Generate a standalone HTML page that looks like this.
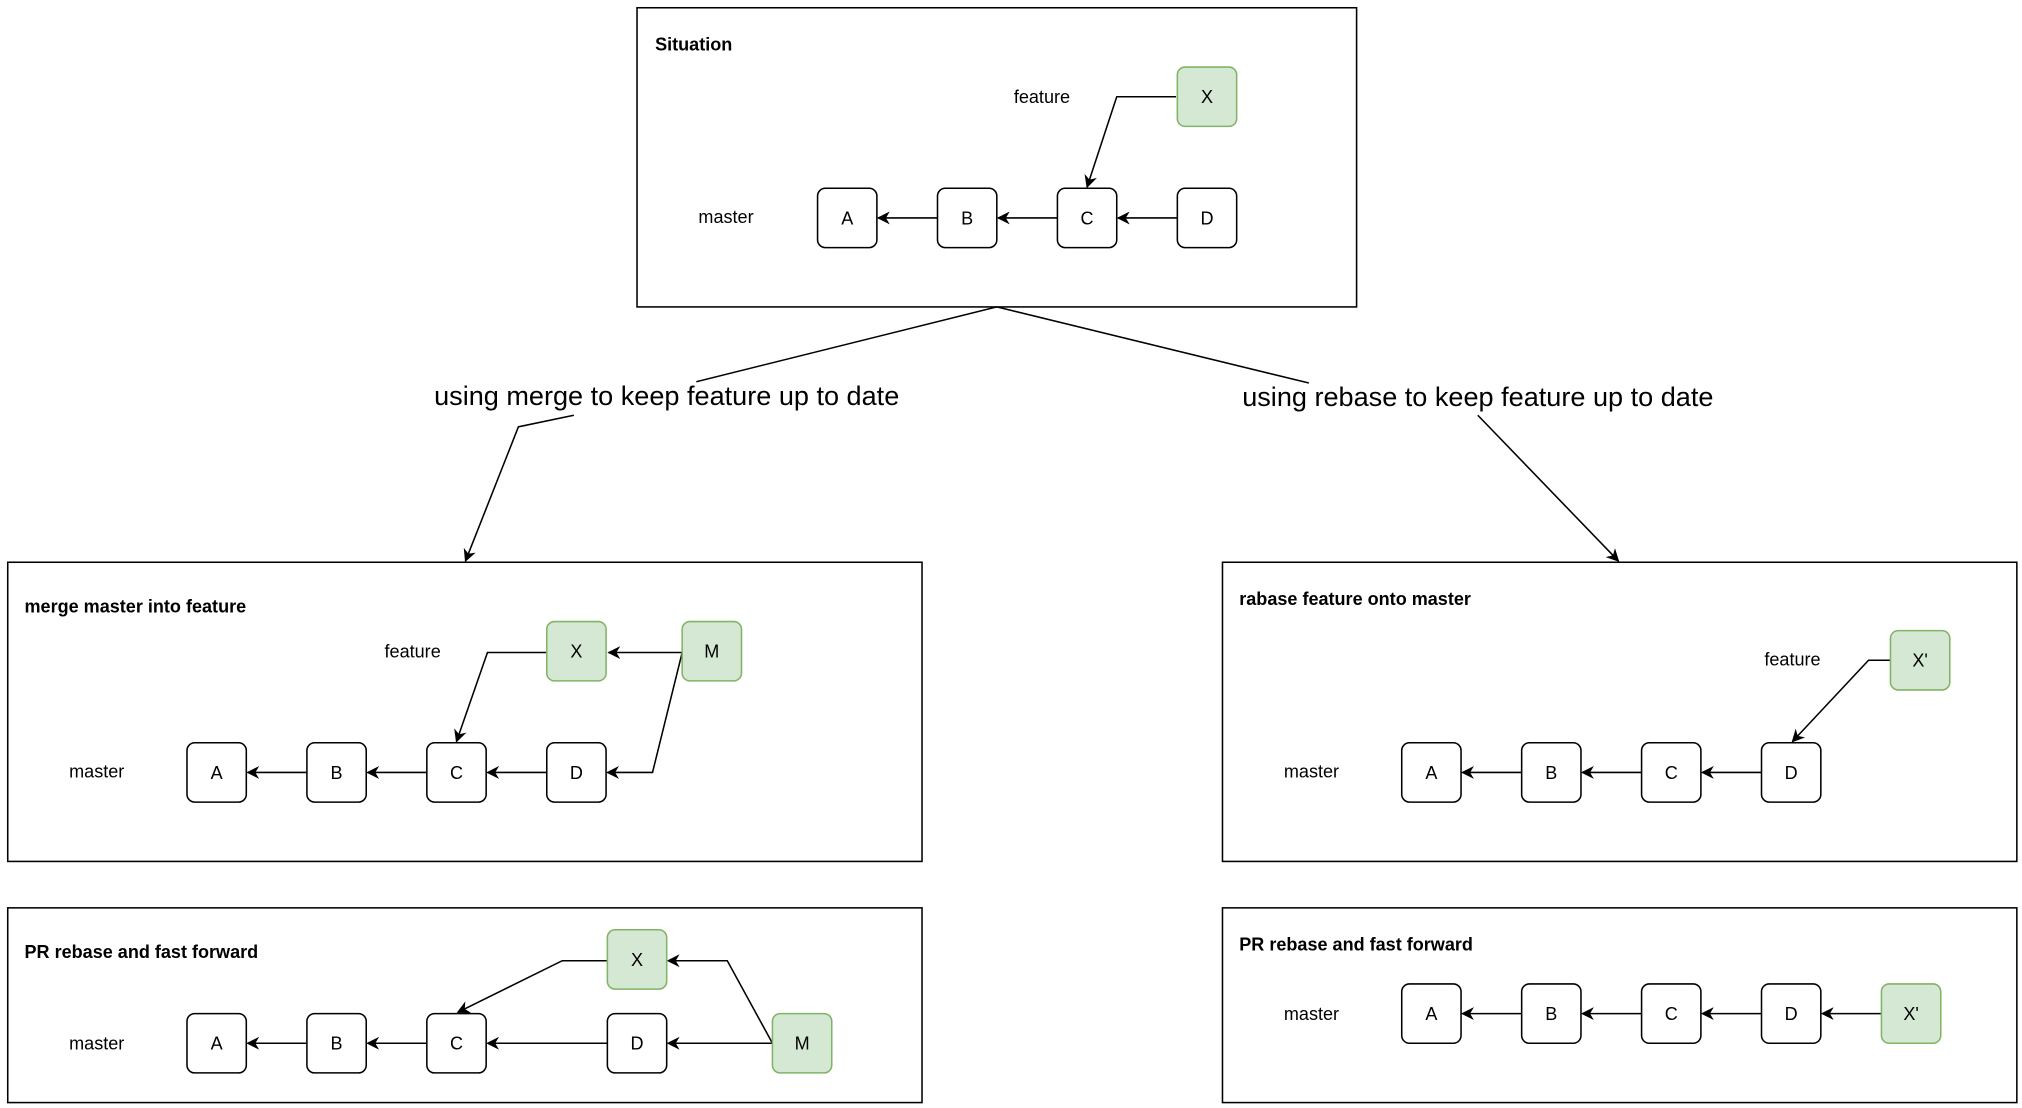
<!DOCTYPE html>
<html><head><meta charset="utf-8"><style>
html,body{margin:0;padding:0;background:#fff;}
svg{display:block;}
text{font-family:"Liberation Sans",Arial,sans-serif;fill:#000;}
</style></head><body>
<svg width="2022" height="1108" viewBox="0 0 1568 859.2" xmlns="http://www.w3.org/2000/svg">
<defs>
<marker id="ar" viewBox="0 0 10 10" refX="9" refY="5" markerWidth="10" markerHeight="10" orient="auto" markerUnits="userSpaceOnUse">
<path d="M0,0 L10,5 L0,10 L3,5 Z" fill="#000"/>
</marker>
</defs>
<g fill="none" stroke="#000" stroke-width="1.2">
<rect x="494" y="6" width="558" height="232"/>
<rect x="6" y="436" width="709" height="232"/>
<rect x="948" y="436" width="616" height="232"/>
<rect x="6" y="704" width="709" height="151"/>
<rect x="948" y="704" width="616" height="151"/>
</g>
<g font-size="14" font-weight="bold">
<text x="508" y="39">Situation</text>
<text x="19" y="475">merge master into feature</text>
<text x="961" y="469">rabase feature onto master</text>
<text x="19" y="743">PR rebase and fast forward</text>
<text x="961" y="737">PR rebase and fast forward</text>
</g>
<g font-size="14" text-anchor="middle">
<text x="808" y="80">feature</text>
<text x="563" y="173">master</text>
<text x="320" y="510">feature</text>
<text x="75" y="603">master</text>
<text x="1390" y="516">feature</text>
<text x="1017" y="603">master</text>
<text x="75" y="814">master</text>
<text x="1017" y="791">master</text>
</g>
<g font-size="21" text-anchor="middle">
<text x="517" y="314">using merge to keep feature up to date</text>
<text x="1146" y="315">using rebase to keep feature up to date</text>
</g>
<g fill="none" stroke="#000" stroke-width="1.2">
<polyline points="773,238 540,296"/>
<polyline points="445,322 402,331 361,435" marker-end="url(#ar)"/>
<polyline points="773,238 1015,297"/>
<polyline points="1146,322 1255,435" marker-end="url(#ar)"/>
<line x1="727" y1="169" x2="681" y2="169" marker-end="url(#ar)"/>
<line x1="820" y1="169" x2="774" y2="169" marker-end="url(#ar)"/>
<line x1="913" y1="169" x2="867" y2="169" marker-end="url(#ar)"/>
<polyline points="912,75 866,75 843,145" marker-end="url(#ar)"/>
<line x1="238" y1="599" x2="192" y2="599" marker-end="url(#ar)"/>
<line x1="331" y1="599" x2="285" y2="599" marker-end="url(#ar)"/>
<line x1="424" y1="599" x2="378" y2="599" marker-end="url(#ar)"/>
<line x1="529" y1="506" x2="472" y2="506" marker-end="url(#ar)"/>
<polyline points="424,506 378,506 354,575" marker-end="url(#ar)"/>
<polyline points="529,506 506,599 471,599" marker-end="url(#ar)"/>
<line x1="1180" y1="599" x2="1134" y2="599" marker-end="url(#ar)"/>
<line x1="1273" y1="599" x2="1227" y2="599" marker-end="url(#ar)"/>
<line x1="1366" y1="599" x2="1320" y2="599" marker-end="url(#ar)"/>
<polyline points="1466,512 1449,512 1390,575" marker-end="url(#ar)"/>
<line x1="238" y1="809" x2="192" y2="809" marker-end="url(#ar)"/>
<line x1="331" y1="809" x2="285" y2="809" marker-end="url(#ar)"/>
<line x1="471" y1="809" x2="378" y2="809" marker-end="url(#ar)"/>
<line x1="599" y1="809" x2="518" y2="809" marker-end="url(#ar)"/>
<polyline points="471,745 436,745 355,785" marker-end="url(#ar)"/>
<polyline points="599,809 564,745 518,745" marker-end="url(#ar)"/>
<line x1="1180" y1="786" x2="1134" y2="786" marker-end="url(#ar)"/>
<line x1="1273" y1="786" x2="1227" y2="786" marker-end="url(#ar)"/>
<line x1="1366" y1="786" x2="1320" y2="786" marker-end="url(#ar)"/>
<line x1="1459" y1="786" x2="1413" y2="786" marker-end="url(#ar)"/>
</g>
<g stroke="#000" stroke-width="1.2" fill="#fff">
<rect x="634" y="146" width="46" height="46" rx="6"/>
<rect x="727" y="146" width="46" height="46" rx="6"/>
<rect x="820" y="146" width="46" height="46" rx="6"/>
<rect x="913" y="146" width="46" height="46" rx="6"/>
<rect x="145" y="576" width="46" height="46" rx="6"/>
<rect x="238" y="576" width="46" height="46" rx="6"/>
<rect x="331" y="576" width="46" height="46" rx="6"/>
<rect x="424" y="576" width="46" height="46" rx="6"/>
<rect x="1087" y="576" width="46" height="46" rx="6"/>
<rect x="1180" y="576" width="46" height="46" rx="6"/>
<rect x="1273" y="576" width="46" height="46" rx="6"/>
<rect x="1366" y="576" width="46" height="46" rx="6"/>
<rect x="145" y="786" width="46" height="46" rx="6"/>
<rect x="238" y="786" width="46" height="46" rx="6"/>
<rect x="331" y="786" width="46" height="46" rx="6"/>
<rect x="471" y="786" width="46" height="46" rx="6"/>
<rect x="1087" y="763" width="46" height="46" rx="6"/>
<rect x="1180" y="763" width="46" height="46" rx="6"/>
<rect x="1273" y="763" width="46" height="46" rx="6"/>
<rect x="1366" y="763" width="46" height="46" rx="6"/>
</g>
<g stroke="#82b366" stroke-width="1.2" fill="#d5e8d4">
<rect x="913" y="52" width="46" height="46" rx="6"/>
<rect x="424" y="482" width="46" height="46" rx="6"/>
<rect x="529" y="482" width="46" height="46" rx="6"/>
<rect x="1466" y="489" width="46" height="46" rx="6"/>
<rect x="471" y="721" width="46" height="46" rx="6"/>
<rect x="599" y="786" width="46" height="46" rx="6"/>
<rect x="1459" y="763" width="46" height="46" rx="6"/>
</g>
<g font-size="14" text-anchor="middle">
<text x="657" y="174">A</text><text x="750" y="174">B</text><text x="843" y="174">C</text><text x="936" y="174">D</text>
<text x="936" y="80">X</text>
<text x="168" y="604">A</text><text x="261" y="604">B</text><text x="354" y="604">C</text><text x="447" y="604">D</text>
<text x="447" y="510">X</text><text x="552" y="510">M</text>
<text x="1110" y="604">A</text><text x="1203" y="604">B</text><text x="1296" y="604">C</text><text x="1389" y="604">D</text>
<text x="1489" y="517">X'</text>
<text x="168" y="814">A</text><text x="261" y="814">B</text><text x="354" y="814">C</text><text x="494" y="814">D</text>
<text x="494" y="749">X</text><text x="622" y="814">M</text>
<text x="1110" y="791">A</text><text x="1203" y="791">B</text><text x="1296" y="791">C</text><text x="1389" y="791">D</text>
<text x="1482" y="791">X'</text>
</g>
</svg>
</body></html>
